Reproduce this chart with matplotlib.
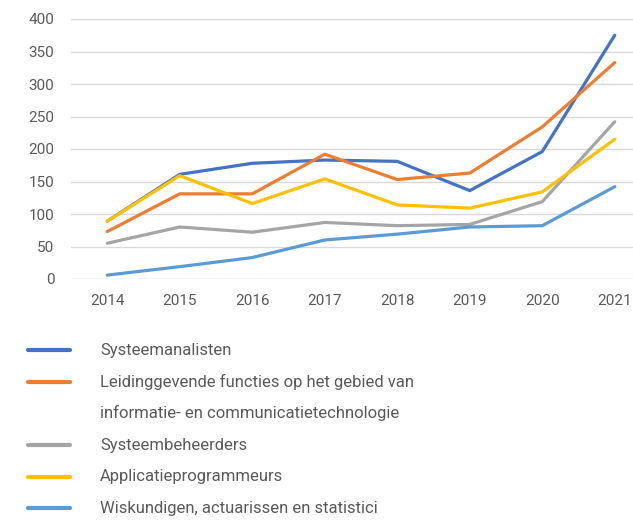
import matplotlib.pyplot as plt
from matplotlib.lines import Line2D

# ---------------------------- datos ----------------------------
jaren = ["2014", "2015", "2016", "2017", "2018", "2019", "2020", "2021"]

systeemanalisten = [89, 161, 178, 183, 181, 136, 196, 375]
leidinggevenden = [73, 131, 131, 192, 153, 163, 234, 333]
systeembeheerders = [55, 80, 72, 87, 82, 84, 119, 242]
applicatieprogrammeurs = [89, 159, 116, 154, 114, 109, 134, 215]
wiskundigen = [6, 19, 33, 60, 69, 80, 82, 142]

labels = [
    "Systeemanalisten",
    "Leidinggevende functies op het gebied van\ninformatie- en communicatietechnologie",
    "Systeembeheerders",
    "Applicatieprogrammeurs",
    "Wiskundigen, actuarissen en statistici",
]
kleuren = ["#4472C4", "#ED7D31", "#A5A5A5", "#FFC000", "#5B9BD5"]
reeksen = [systeemanalisten, leidinggevenden, systeembeheerders,
           applicatieprogrammeurs, wiskundigen]

# ---------------------------- figuur ----------------------------
plt.rcParams['font.family'] = ['Roboto', 'DejaVu Sans']
tekstkleur = "#595959"

fig = plt.figure(figsize=(6.33, 5.2), dpi=100)
ax = fig.add_axes([71 / 633, 1 - 279 / 520, 580 / 633, 260 / 520])

x = list(range(len(jaren)))
for serie, kleur in zip(reeksen, kleuren):
    ax.plot(x, serie, color=kleur, lw=2.3, solid_capstyle='round', zorder=3)

ax.set_xlim(-0.5, len(jaren) - 0.5)
ax.set_ylim(0, 400)
ax.set_yticks(range(0, 401, 50))
ax.set_xticks(x)
ax.set_xticklabels(jaren)
ax.yaxis.grid(True, color="#D9D9D9", lw=1)
ax.set_axisbelow(True)
for s in ax.spines.values():
    s.set_visible(False)
ax.tick_params(length=0, labelsize=11, colors=tekstkleur)
ax.tick_params(axis='y', pad=12)
ax.tick_params(axis='x', pad=11)

# ---------------------------- leyenda ----------------------------
y_px = 350
for label, kleur in zip(labels, kleuren):
    yf = 1 - y_px / 520
    fig.add_artist(Line2D([28 / 633, 70 / 633], [yf, yf], color=kleur, lw=3,
                          solid_capstyle='round'))
    for regel in label.split("\n"):
        fig.text(100 / 633, 1 - y_px / 520, regel, color=tekstkleur,
                 fontsize=12, va='center', ha='left')
        y_px += 31.7

fig.savefig("out.png", dpi=100)
